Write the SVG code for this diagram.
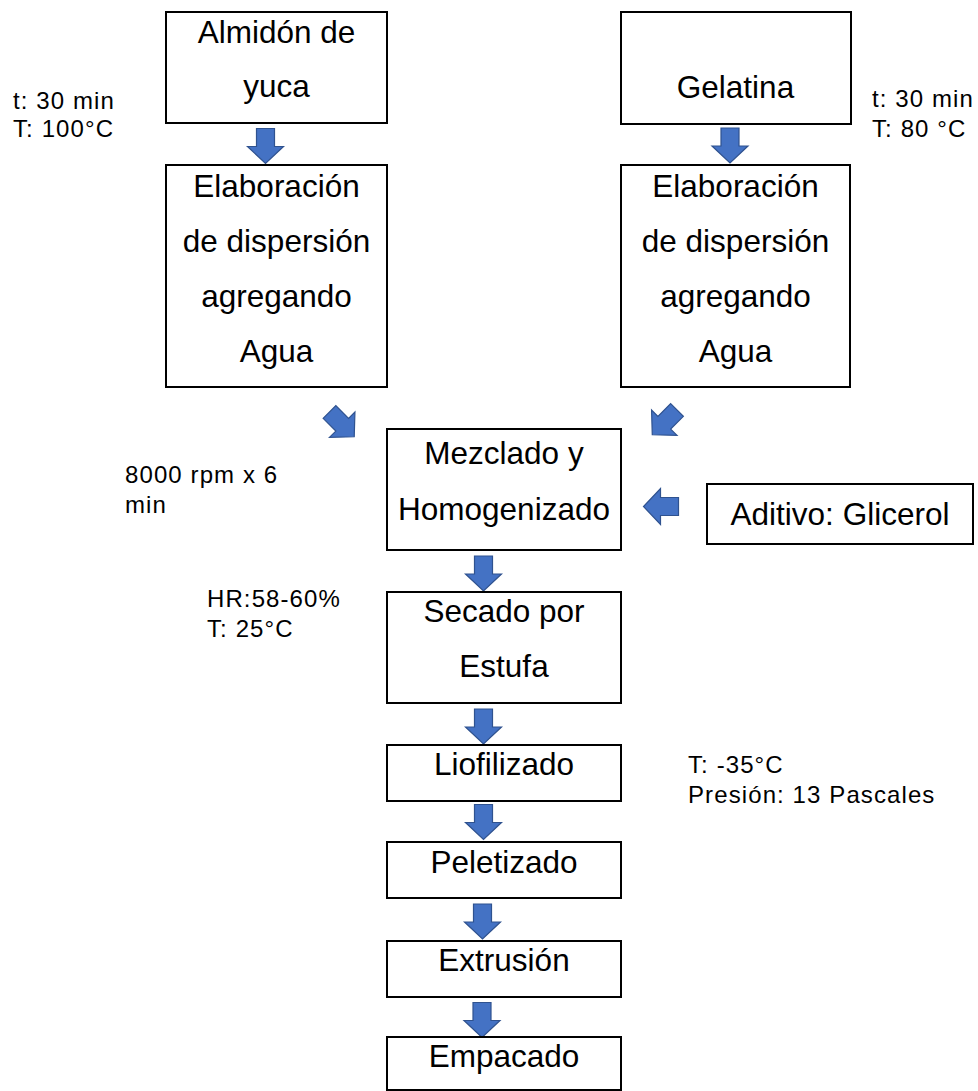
<svg xmlns="http://www.w3.org/2000/svg" width="978" height="1091" viewBox="0 0 978 1091">
<defs>
<style>
.box{fill:#fff;stroke:#000;stroke-width:2}
.t{font-family:"Liberation Sans",Arial,sans-serif;font-size:31.5px;fill:#000;text-anchor:middle}
.s{font-family:"Liberation Sans",Arial,sans-serif;font-size:24px;letter-spacing:1.1px;fill:#000}
.arr{fill:#4472C4;stroke:#2F528F;stroke-width:1.2;stroke-linejoin:miter}
</style>
<path id="a" d="M-9,-17 L9,-17 L9,1 L18,1 L0,18 L-18,1 L-9,1 Z"/>
</defs>
<rect width="978" height="1091" fill="#fff"/>

<g id="connectors">
<use href="#a" class="arr" transform="translate(265.5,145.5)"/>
<use href="#a" class="arr" transform="translate(730,145)"/>
<use href="#a" class="arr" transform="translate(341.5,424) rotate(-45)"/>
<use href="#a" class="arr" transform="translate(665,422) rotate(45)"/>
<use href="#a" class="arr" transform="translate(661.5,506.5) rotate(90)"/>
<use href="#a" class="arr" transform="translate(483.5,573)"/>
<use href="#a" class="arr" transform="translate(483.5,726)"/>
<use href="#a" class="arr" transform="translate(483.5,821.5)"/>
<use href="#a" class="arr" transform="translate(482.5,921)"/>
<use href="#a" class="arr" transform="translate(482,1019.5)"/>
</g>

<g id="almidon">
<rect class="box" x="166" y="12" width="221" height="111"/>
<text class="t" x="276.5" y="43">Almidón de</text>
<text class="t" x="276.5" y="97">yuca</text>
</g>
<g id="gelatina">
<rect class="box" x="621" y="12" width="230" height="112"/>
<text class="t" x="735.5" y="98">Gelatina</text>
</g>
<g id="label-almidon">
<text class="s" x="13" y="109">t: 30 min</text>
<text class="s" x="13" y="137">T: 100°C</text>
</g>
<g id="label-gelatina">
<text class="s" x="872" y="107">t: 30 min</text>
<text class="s" x="872" y="137">T: 80 °C</text>
</g>
<g id="elab-left">
<rect class="box" x="166" y="165" width="221" height="222"/>
<text class="t" x="276.5" y="197">Elaboración</text>
<text class="t" x="276.5" y="252">de dispersión</text>
<text class="t" x="276.5" y="307">agregando</text>
<text class="t" x="276.5" y="362">Agua</text>
</g>
<g id="elab-right">
<rect class="box" x="621" y="165" width="229" height="222"/>
<text class="t" x="735.5" y="197">Elaboración</text>
<text class="t" x="735.5" y="252">de dispersión</text>
<text class="t" x="735.5" y="307">agregando</text>
<text class="t" x="735.5" y="362">Agua</text>
</g>
<g id="mezclado">
<rect class="box" x="387" y="429" width="234" height="121"/>
<text class="t" x="504" y="464">Mezclado y</text>
<text class="t" x="504" y="520">Homogenizado</text>
</g>
<g id="label-mezclado">
<text class="s" x="125" y="483">8000 rpm x 6</text>
<text class="s" x="125" y="513">min</text>
</g>
<g id="aditivo">
<rect class="box" x="707" y="484" width="266" height="60"/>
<text class="t" x="840" y="525">Aditivo: Glicerol</text>
</g>
<g id="secado">
<rect class="box" x="387" y="592" width="234" height="111"/>
<text class="t" x="504" y="622">Secado por</text>
<text class="t" x="504" y="677">Estufa</text>
</g>
<g id="label-secado">
<text class="s" x="207" y="607">HR:58-60%</text>
<text class="s" x="207" y="637">T: 25°C</text>
</g>
<g id="liofilizado">
<rect class="box" x="387" y="745" width="234" height="56"/>
<text class="t" x="504" y="775">Liofilizado</text>
</g>
<g id="label-liofilizado">
<text class="s" x="688" y="773">T: -35°C</text>
<text class="s" x="688" y="803">Presión: 13 Pascales</text>
</g>
<g id="peletizado">
<rect class="box" x="387" y="842" width="234" height="56"/>
<text class="t" x="504" y="873">Peletizado</text>
</g>
<g id="extrusion">
<rect class="box" x="387" y="941" width="234" height="56"/>
<text class="t" x="504" y="971">Extrusión</text>
</g>
<g id="empacado">
<rect class="box" x="387" y="1037" width="234" height="53"/>
<text class="t" x="504" y="1067">Empacado</text>
</g>
</svg>
